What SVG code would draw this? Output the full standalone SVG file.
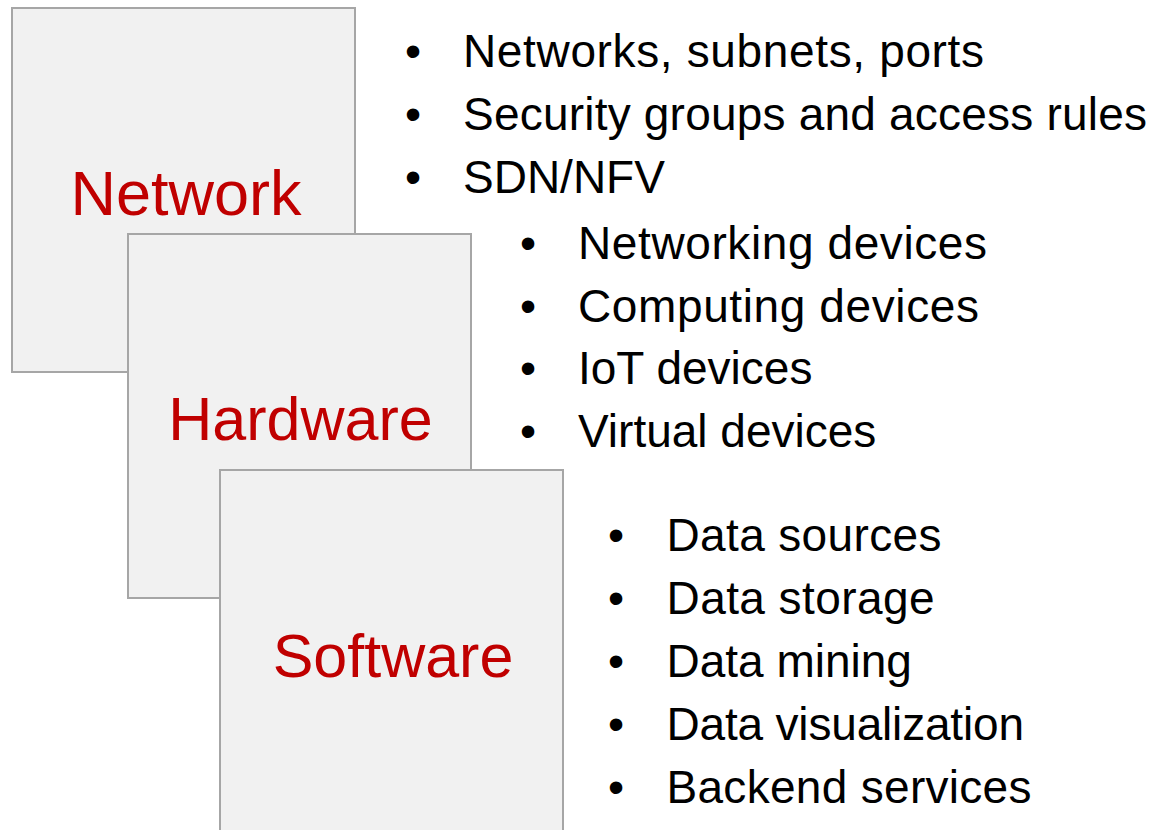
<svg xmlns="http://www.w3.org/2000/svg" width="1156" height="830" viewBox="0 0 1156 830">
<style>
.box{fill:#f1f1f1;stroke:#a6a6a6;stroke-width:2}
.lbl{font-family:"Liberation Sans",Arial,sans-serif;font-size:61px;fill:#c00000;text-anchor:middle}
.it{font-family:"Liberation Sans",Arial,sans-serif;font-size:46px;fill:#000}
.bl{font-family:"Liberation Sans",Arial,sans-serif;font-size:46px;fill:#000;text-anchor:middle}
</style>
<rect width="1156" height="830" fill="#fff"/>
<g id="network">
<rect class="box" x="12" y="8" width="343" height="364"/>
<text class="lbl" x="186" y="215" style="font-size:63px">Network</text>
</g>
<g id="hardware">
<rect class="box" x="128" y="234" width="343" height="364"/>
<text class="lbl" x="300.5" y="440">Hardware</text>
</g>
<g id="software">
<rect class="box" x="220" y="470" width="343" height="380"/>
<text class="lbl" x="393" y="677">Software</text>
</g>
<g id="network-list">
<text class="bl" x="413" y="66.5">•</text><text class="it" x="463" y="66.5" textLength="521" lengthAdjust="spacing">Networks, subnets, ports</text>
<text class="bl" x="413" y="129.5">•</text><text class="it" x="463" y="129.5" textLength="684" lengthAdjust="spacing">Security groups and access rules</text>
<text class="bl" x="413" y="192.5">•</text><text class="it" x="463" y="192.5">SDN/NFV</text>
</g>
<g id="hardware-list">
<text class="bl" x="528" y="259">•</text><text class="it" x="578" y="259" textLength="409" lengthAdjust="spacing">Networking devices</text>
<text class="bl" x="528" y="321.5">•</text><text class="it" x="578" y="321.5" textLength="401" lengthAdjust="spacing">Computing devices</text>
<text class="bl" x="528" y="384">•</text><text class="it" x="578" y="384">IoT devices</text>
<text class="bl" x="528" y="446.5">•</text><text class="it" x="578" y="446.5">Virtual devices</text>
</g>
<g id="software-list">
<text class="bl" x="616" y="550.5">•</text><text class="it" x="666.5" y="550.5" textLength="275" lengthAdjust="spacing">Data sources</text>
<text class="bl" x="616" y="613.5">•</text><text class="it" x="666.5" y="613.5" textLength="268" lengthAdjust="spacing">Data storage</text>
<text class="bl" x="616" y="676.5">•</text><text class="it" x="666.5" y="676.5">Data mining</text>
<text class="bl" x="616" y="739.5">•</text><text class="it" x="666.5" y="739.5" textLength="357.5" lengthAdjust="spacing">Data visualization</text>
<text class="bl" x="616" y="802.5">•</text><text class="it" x="666.5" y="802.5" textLength="365" lengthAdjust="spacing">Backend services</text>
</g>
<g id="connectors"></g>
</svg>
